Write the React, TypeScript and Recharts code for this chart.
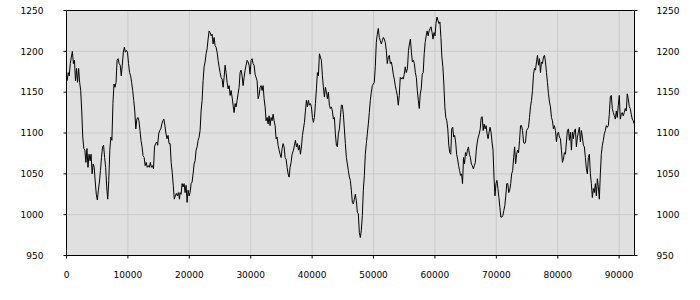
import React from "react";
import { LineChart, Line, XAxis, YAxis, CartesianGrid, ReferenceLine } from "recharts";

// Readings, in five stretches; each stretch is evenly sampled between its start and end x
const seg1Range = [110, 18400];
const seg1: number[] = [
  1164,1174,1170,1185,1193,1200,1185,1189,1164,1179,1162,1179,1162,1152,1127,1095,1081,1079,1064,1081,
  1058,1074,1066,1074,1050,1062,1058,1040,1025,1018,1030,1040,1054,1070,1083,1085,1070,1058,1034,1019,
  1042,1079,1095,1091,1136,1160,1156,1162,1189,1191,1185,1183,1170,1183,1199,1205,1199,1201,1199,1185,
  1174,1170,1162,1152,1140,1127,1105,1117,1119,1115,1103,1091,1083,1072,1070,1060,1064,1058,1060,1058,
  1064,1058,1060,1056,1083,1087,1089,1085,1099,1103,1105,1111,1115,1117,1109,1099,1093,1097,1087,1087,
  1064,1052,1036,1019,1023,1026,1023,1027,1019,
];
const seg2Range = [18500, 36740];
const seg2: number[] = [
  1027,1025,1038,1034,1038,1027,1036,1015,1030,1023,1027,1038,1040,1050,1062,1066,1079,1083,1091,1095,
  1103,1127,1140,1164,1181,1187,1197,1203,1215,1225,1223,1219,1221,1209,1217,1207,1205,1199,1189,1181,
  1174,1168,1166,1156,1168,1183,1174,1162,1154,1158,1146,1152,1144,1134,1125,1136,1132,1140,1148,1156,
  1174,1177,1170,1158,1168,1177,1183,1189,1187,1183,1172,1189,1191,1185,1183,1172,1168,1164,1142,1146,
  1156,1158,1152,1158,1142,1132,1115,1119,1111,1121,1109,1119,1115,1123,1115,1109,1093,1095,1085,1079,
  1074,1070,1081,1087,1083,1070,1068,1058,1050,1046,1058,1064,1074,
];
const seg3Range = [36960, 55330];
const seg3: number[] = [
  1079,1085,1091,1083,1087,1079,1085,1074,1083,1097,1105,1113,1127,1140,1132,1140,1134,1136,1132,1119,
  1113,1119,1136,1154,1174,1170,1197,1193,1189,1170,1156,1144,1156,1150,1142,1150,1134,1130,1132,1127,
  1117,1119,1099,1085,1083,1099,1105,1119,1134,1134,1123,1105,1087,1070,1062,1054,1046,1042,1030,1015,
  1013,1019,1025,1017,1003,1001,978,972,981,999,1030,1048,1074,1087,1099,1111,1125,1140,1150,1158,
  1160,1162,1181,1211,1221,1228,1217,1213,1209,1213,1217,1215,1211,1201,1185,1193,1195,1185,1187,1181,
  1172,1166,1158,1152,1146,1134,1146,1168,1166,1168,1166,1172,1181,1174,
];
const seg4Range = [55530, 73780];
const seg4: number[] = [
  1179,1201,1209,1215,1199,1187,1189,1185,1174,1168,1152,1140,1130,1148,1154,1172,1174,1197,1211,1219,
  1225,1219,1225,1228,1230,1223,1215,1223,1219,1234,1242,1238,1234,1236,1217,1193,1181,1160,1132,1119,
  1115,1105,1085,1076,1074,1105,1107,1095,1097,1089,1074,1068,1060,1054,1048,1050,1038,1070,1062,1076,
  1072,1079,1083,1074,1070,1062,1060,1056,1060,1064,1079,1089,1095,1099,1105,1119,1120,1103,1111,1105,
  1109,1099,1093,1101,1107,1101,1089,1079,1046,1023,1038,1042,1032,1021,1009,997,997,999,1005,1011,
  1023,1038,1038,1027,1030,1038,1050,1054,1070,1083,1062,1074,1079,1076,1091,
];
const seg5Range = [73940, 92460];
const seg5: number[] = [
  1109,1109,1103,1089,1087,1089,1103,1105,1107,1119,1132,1140,1152,1172,1179,1177,1187,1195,1183,1191,
  1174,1187,1185,1193,1195,1187,1174,1162,1148,1138,1132,1119,1115,1105,1109,1103,1089,1099,1101,1095,
  1093,1079,1064,1068,1076,1074,1089,1103,1105,1091,1101,1079,1101,1093,1103,1105,1083,1095,1101,1107,
  1089,1103,1095,1085,1083,1070,1056,1050,1070,1074,1050,1038,1021,1032,1027,1038,1023,1044,1034,1019,
  1050,1074,1085,1091,1099,1103,1109,1107,1109,1123,1144,1146,1130,1125,1121,1117,1127,1119,1134,1146,
  1117,1123,1125,1121,1125,1130,1127,1148,1142,1132,1130,1123,1117,1115,1111,
];

const xTicks = [0, 10000, 20000, 30000, 40000, 50000, 60000, 70000, 80000, 90000];
const yTicks = [950, 1000, 1050, 1100, 1150, 1200, 1250];

const segments: [number[], number[]][] = [
  [seg1Range, seg1],
  [seg2Range, seg2],
  [seg3Range, seg3],
  [seg4Range, seg4],
  [seg5Range, seg5],
];

const data = segments.flatMap(([range, vals]) => {
  const step = (range[1] - range[0]) / (vals.length - 1);
  return vals.map((v, i) => ({ x: range[0] + i * step, v }));
});

const tickStyle = { fontFamily: "DejaVu Sans", fontSize: 9, fill: "#000" };

export default function App() {
  return (
    <div style={{ position: "absolute", left: 0, top: 0 }}>
      <LineChart
        width={700}
        height={300}
        data={data}
        margin={{ top: 10.5, right: 0, bottom: 0, left: 0 }}
      >
        <CartesianGrid yAxisId="left" stroke="#cbcbcb" fill="#e0e0e0" horizontal vertical />
        <XAxis
          dataKey="x"
          type="number"
          domain={[0, 92500]}
          ticks={xTicks}
          height={44.5}
          tickSize={3}
          tickMargin={13}
          axisLine={{ stroke: "#000" }}
          tickLine={{ stroke: "#000" }}
          tick={tickStyle}
          allowDataOverflow
        />
        <YAxis
          yAxisId="left"
          orientation="left"
          type="number"
          domain={[950, 1250]}
          ticks={yTicks}
          width={66.5}
          tickSize={3}
          tickMargin={20}
          axisLine={{ stroke: "#000" }}
          tickLine={{ stroke: "#000" }}
          tick={tickStyle}
          allowDataOverflow
        />
        <YAxis
          yAxisId="right"
          orientation="right"
          type="number"
          domain={[950, 1250]}
          ticks={yTicks}
          width={65.5}
          tickSize={3}
          tickMargin={19}
          axisLine={{ stroke: "#000" }}
          tickLine={{ stroke: "#000" }}
          tick={tickStyle}
          allowDataOverflow
        />
        <ReferenceLine yAxisId="left" y={1250} stroke="#000" />
        <Line
          yAxisId="left"
          type="linear"
          dataKey="v"
          stroke="#000"
          strokeWidth={1}
          dot={false}
          activeDot={false}
          isAnimationActive={false}
        />
      </LineChart>
    </div>
  );
}
